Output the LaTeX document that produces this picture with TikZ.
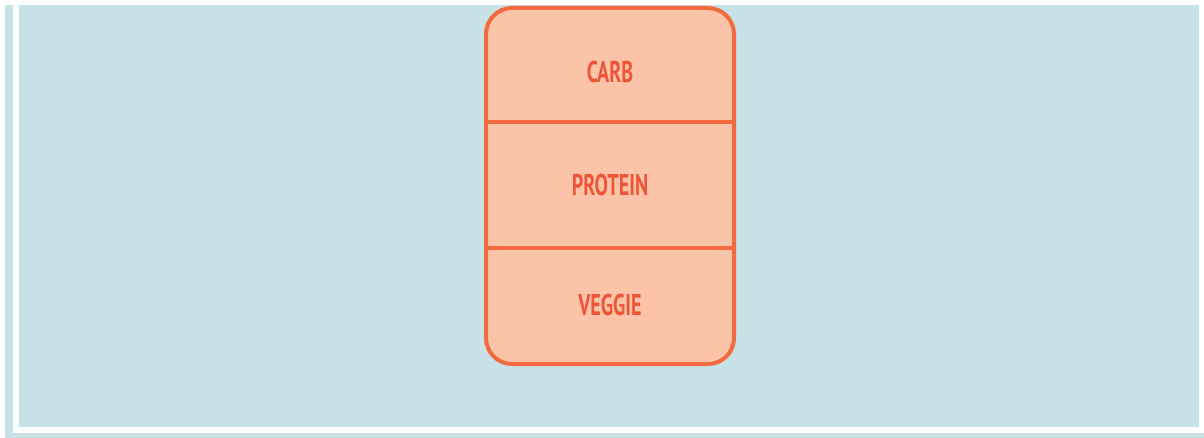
\documentclass[tikz,border=0pt]{standalone}
\usepackage{fontspec}
\setmainfont{PT Sans}
\definecolor{bgblue}{HTML}{C8E2E7}
\definecolor{boxfill}{HTML}{FBC4A9}
\definecolor{boxline}{HTML}{F26A3D}
\definecolor{labelred}{HTML}{EE5537}
\tikzset{
  lbl/.style={text=labelred, font=\fontsize{30}{32}\selectfont\bfseries, xscale=0.67, inner sep=0pt},
  boxedge/.style={draw=boxline, line width=4pt},
}
\begin{document}
\begin{tikzpicture}[x=1pt,y=-1pt]
\useasboundingbox (0,0) rectangle (1204,438);
\fill[white] (0,0) rectangle (1204,438);
% blue frame background
\fill[bgblue] (5,5) rectangle (1199,433);
\fill[bgblue] (5,433) rectangle (1204,438);
% white frame lines
\fill[white] (13,5) rectangle (19,433);
\fill[white] (13,427) rectangle (1204,433);
% box
\draw[boxedge, fill=boxfill, rounded corners=26pt] (486,8) rectangle (734,364);
\coordinate (d1l) at (486,122);
\coordinate (d1r) at (734,122);
\coordinate (d2l) at (486,248);
\coordinate (d2r) at (734,248);
\draw[boxedge] (d1l) -- (d1r);
\draw[boxedge] (d2l) -- (d2r);
\node[lbl] (carb) at (610,72) {CARB};
\node[lbl] (protein) at (610,185) {PROTEIN};
\node[lbl] (veggie) at (610,305) {VEGGIE};
\end{tikzpicture}
\end{document}
